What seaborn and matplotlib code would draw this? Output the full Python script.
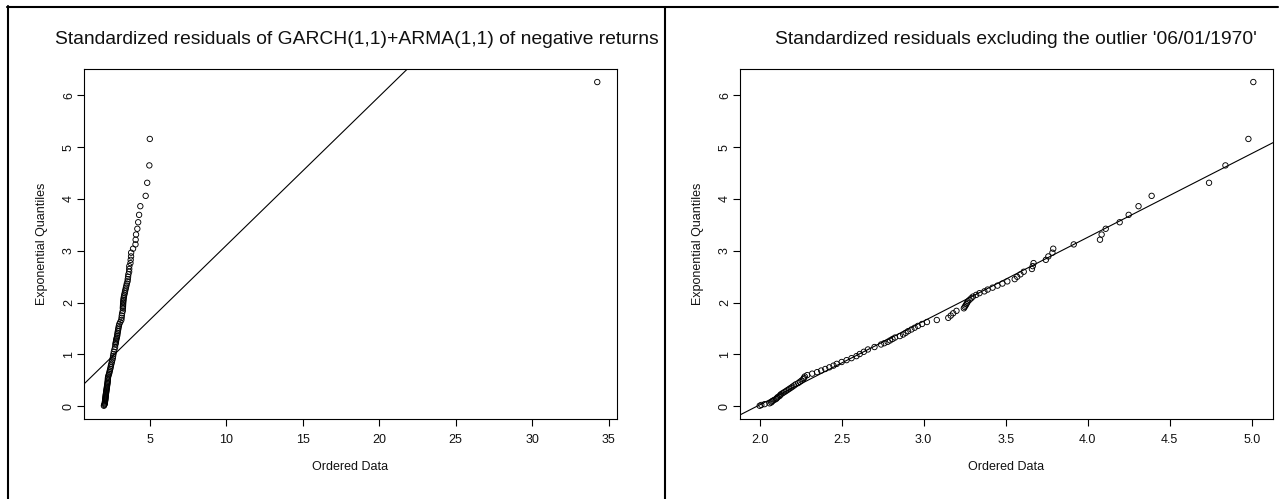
import matplotlib
matplotlib.use("Agg")
import matplotlib.pyplot as plt
from matplotlib.lines import Line2D
import seaborn as sns
import pandas as pd

# ---- data ----
exp_quantiles = [
    0.006, 0.021, 0.037, 0.053, 0.069, 0.086, 0.103, 0.120, 0.137, 0.155,
    0.173, 0.191, 0.210, 0.229, 0.249, 0.269, 0.289, 0.310, 0.331, 0.352,
    0.374, 0.397, 0.420, 0.444, 0.468, 0.492, 0.518, 0.544, 0.571, 0.598,
    0.626, 0.655, 0.686, 0.716, 0.748, 0.781, 0.815, 0.851, 0.887, 0.925,
    0.964, 1.005, 1.048, 1.093, 1.140,
    1.189, 1.214, 1.240, 1.267, 1.295, 1.323, 1.352, 1.382, 1.414, 1.446,
    1.479, 1.513, 1.548, 1.585, 1.623, 1.662, 1.704, 1.747, 1.792, 1.839,
    1.888, 1.914, 1.940, 1.967, 1.995, 2.024, 2.053, 2.083, 2.114, 2.147,
    2.180, 2.215, 2.250, 2.287, 2.326, 2.366, 2.408, 2.451, 2.497, 2.544,
    2.594, 2.647, 2.702, 2.761, 2.824, 2.890, 2.962, 3.039, 3.122, 3.213,
    3.313, 3.424, 3.550, 3.693, 3.860, 4.060, 4.312, 4.648, 5.159, 6.258,
]
ordered_residuals = [
    2.00, 2.01, 2.03, 2.06, 2.07, 2.075, 2.08, 2.09, 2.10, 2.105,
    2.11, 2.12, 2.125, 2.13, 2.14, 2.15, 2.16, 2.17, 2.18, 2.19,
    2.20, 2.21, 2.22, 2.235, 2.245, 2.255, 2.265, 2.27, 2.275, 2.29,
    2.32, 2.35, 2.375, 2.40, 2.425, 2.45, 2.47, 2.50, 2.53, 2.56,
    2.59, 2.61, 2.635, 2.66, 2.70,
    2.74, 2.76, 2.78, 2.795, 2.81, 2.825, 2.855, 2.875, 2.89, 2.905,
    2.925, 2.945, 2.965, 2.99, 3.02, 3.08, 3.15, 3.165, 3.18, 3.20,
    3.245, 3.25, 3.255, 3.26, 3.265, 3.27, 3.28, 3.29, 3.30, 3.32,
    3.34, 3.37, 3.39, 3.42, 3.45, 3.48, 3.51, 3.555, 3.57, 3.59,
    3.61, 3.66, 3.665, 3.67, 3.745, 3.76, 3.785, 3.79, 3.915, 4.075,
    4.085, 4.11, 4.195, 4.25, 4.31, 4.39, 4.74, 4.84, 4.98, 5.01,
]
outlier_value = 34.25          # residual on '06/01/1970'
left_fit = (0.222, 0.2879)     # intercept, slope
right_fit = (-3.213, 1.618)

titles = [
    "Standardized residuals of GARCH(1,1)+ARMA(1,1) of negative returns",
    "Standardized residuals excluding the outlier '06/01/1970'",
]
xlabel = "Ordered Data"
ylabel = "Exponential Quantiles"
left_xticks = [5, 10, 15, 20, 25, 30, 35]
right_xticks = [2.0, 2.5, 3.0, 3.5, 4.0, 4.5, 5.0]
yticks = [0, 1, 2, 3, 4, 5, 6]

# full sample (with outlier) and sample without outlier
df_full = pd.DataFrame({"x": ordered_residuals[1:] + [outlier_value],
                        "y": exp_quantiles})
df_excl = pd.DataFrame({"x": ordered_residuals, "y": exp_quantiles})

# ---- figure ----
sns.set_style("white")
plt.rcParams["font.family"] = ["Liberation Sans", "DejaVu Sans"]

W, H = 1283, 499
fig = plt.figure(figsize=(W / 100, H / 100), dpi=100)

def px_axes(left, top, right, bottom):
    return fig.add_axes([left / W, 1 - bottom / H, (right - left) / W, (bottom - top) / H])

ax1 = px_axes(84, 69, 617, 419)
ax2 = px_axes(740, 69, 1273, 419)

panels = [
    (ax1, df_full, left_fit, (0.71, 35.54), left_xticks, [str(t) for t in left_xticks], 356.5),
    (ax2, df_excl, right_fit, (1.88, 5.13), right_xticks, [f"{t:.1f}" for t in right_xticks], 1015.5),
]

for i, (ax, df, fit, xlim, xt, xtl, tcx) in enumerate(panels):
    sns.scatterplot(data=df, x="x", y="y", ax=ax, marker="o",
                    facecolor="none", edgecolor="black", s=15, linewidth=0.65,
                    zorder=3)
    ax.axline((0, fit[0]), slope=fit[1], color="black", linewidth=0.8, zorder=2)
    ax.set_xlim(*xlim)
    ax.set_ylim(-0.25, 6.51)
    ax.set_xticks(xt)
    ax.set_xticklabels(xtl)
    ax.set_yticks(yticks)
    ax.set_yticklabels([str(t) for t in yticks])
    ax.tick_params(axis="both", direction="out", length=5.2, width=0.8,
                   color="black", labelsize=9, labelcolor="#111111",
                   bottom=True, left=True)
    ax.tick_params(axis="x", pad=5.3)
    ax.tick_params(axis="y", pad=5.6)
    for lab in ax.get_yticklabels():
        lab.set_rotation(90)
        lab.set_ha("center")
        lab.set_va("center")
    for sp in ax.spines.values():
        sp.set_visible(True)
        sp.set_color("black")
        sp.set_linewidth(0.8)
    ax.set_xlabel(xlabel, fontsize=9, color="#111111")
    ax.xaxis.set_label_coords(0.5, -(470 - 419) / 350)
    ax.xaxis.label.set_va("baseline")
    ax.set_ylabel(ylabel, fontsize=9, color="#111111")
    ax.yaxis.set_label_coords(-(84 - 47.5) / 533, 0.5)
    fig.text(tcx / W, 1 - 44.3 / H, titles[i], ha="center", va="baseline",
             fontsize=13.9, color="#111111")

# outer frame lines (left edge, top edge, divider)
lw = 1.5
fig.add_artist(Line2D([7.5 / W, 7.5 / W], [0, 1 - 6 / H], color="black",
                      linewidth=lw, transform=fig.transFigure))
fig.add_artist(Line2D([6.8 / W, 1278 / W], [1 - 7 / H, 1 - 7 / H], color="black",
                      linewidth=lw, transform=fig.transFigure))
fig.add_artist(Line2D([665 / W, 665 / W], [0, 1 - 7 / H], color="black",
                      linewidth=lw, transform=fig.transFigure))

fig.savefig("out.png", dpi=100, facecolor="white")
